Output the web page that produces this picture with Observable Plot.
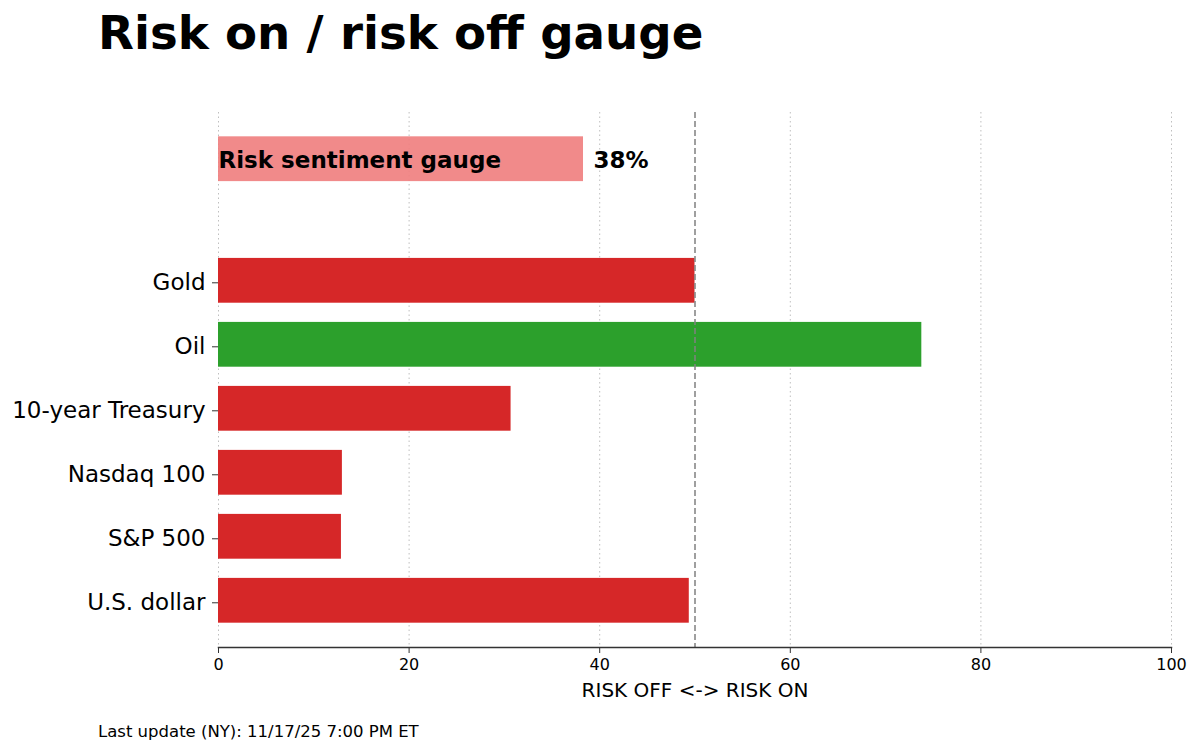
<!DOCTYPE html>
<html>
<head>
<meta charset="utf-8">
<script src="https://cdn.jsdelivr.net/npm/d3@7"></script>
<script src="https://cdn.jsdelivr.net/npm/@observablehq/plot@0.6"></script>
<style>
  html, body { margin: 0; padding: 0; background: #fff; }
  body { width: 1200px; height: 752px; overflow: hidden; font-family: "DejaVu Sans", sans-serif; color: #000; }
  #title { height: 70px; line-height: 66px; padding-left: 98px; font-size: 46.7px; font-weight: bold; white-space: nowrap; }
  #footer { height: 42px; line-height: 44px; padding-left: 98px; font-size: 16.5px; white-space: nowrap; }
  #chart svg { display: block; }
</style>
</head>
<body>
<div id="title">Risk on / risk off gauge</div>
<div id="chart"></div>
<div id="footer">Last update (NY): 11/17/25 7:00 PM ET</div>
<script>
// ---- data ----
const categories = ["U.S. dollar", "S&P 500", "Nasdaq 100", "10-year Treasury", "Oil", "Gold"];
const values = [49.4, 12.9, 13.0, 30.7, 73.8, 50.0];
const signals = ["off", "off", "off", "off", "on", "off"];
const gaugeLabel = "Risk sentiment gauge";
const gaugeValue = 38.3;
const gaugeText = "38%";
const xTicks = [0, 20, 40, 60, 80, 100];
const neutral = 50;
const xLabel = "RISK OFF <-> RISK ON";

const rows = categories.map((c, i) => ({name: c, pos: i, value: values[i], signal: signals[i]}));
const gaugePos = categories.length + 0.9;
const half = 0.35;
const gaugeRows = [{pos: gaugePos, value: gaugeValue, label: gaugeLabel, text: gaugeText}];

const chart = Plot.plot({
  width: 1200,
  height: 640,
  marginTop: 42,
  marginBottom: 63,
  marginLeft: 218,
  marginRight: 29,
  style: {fontFamily: "DejaVu Sans, sans-serif", color: "#000", background: "#fff"},
  x: {domain: [0, 100]},
  y: {domain: [-0.73, 7.63]},
  marks: [
    Plot.gridX(xTicks, {stroke: "#b0b0b0", strokeOpacity: 0.9, strokeDasharray: "1.5,3", strokeWidth: 0.9}),
    Plot.rect(rows, {
      x1: 0, x2: "value",
      y1: d => d.pos - half, y2: d => d.pos + half,
      fill: d => d.signal === "on" ? "#2ca02c" : "#d62728"
    }),
    Plot.rect(gaugeRows, {
      x1: 0, x2: "value",
      y1: d => d.pos - half, y2: d => d.pos + half,
      fill: "#f08080", fillOpacity: 0.92
    }),
    Plot.text(gaugeRows, {x: 0, y: "pos", text: "label", textAnchor: "start", dy: 1, fontSize: 23, fontWeight: "bold", fill: "#000"}),
    Plot.text(gaugeRows, {x: "value", y: "pos", text: "text", textAnchor: "start", dx: 10, dy: 1, fontSize: 23, fontWeight: "bold", fill: "#000"}),
    Plot.ruleX([neutral], {stroke: "#808080", strokeWidth: 1.5, strokeDasharray: "6,3"}),
    Plot.axisY(categories.map((c, i) => i), {
      tickFormat: i => categories[i], tickSize: 6, tickPadding: 7, dy: 2, fontSize: 23, label: null, stroke: "#333"
    }),
    Plot.axisX(xTicks, {tickSize: 6, tickPadding: 5, fontSize: 16, label: null, stroke: "#333"}),
    Plot.frame({anchor: "bottom", stroke: "#333", strokeWidth: 1.5}),
    Plot.text([xLabel], {frameAnchor: "bottom", dy: 49, fontSize: 20, fill: "#000"})
  ]
});
document.getElementById("chart").appendChild(chart);
</script>
</body>
</html>
